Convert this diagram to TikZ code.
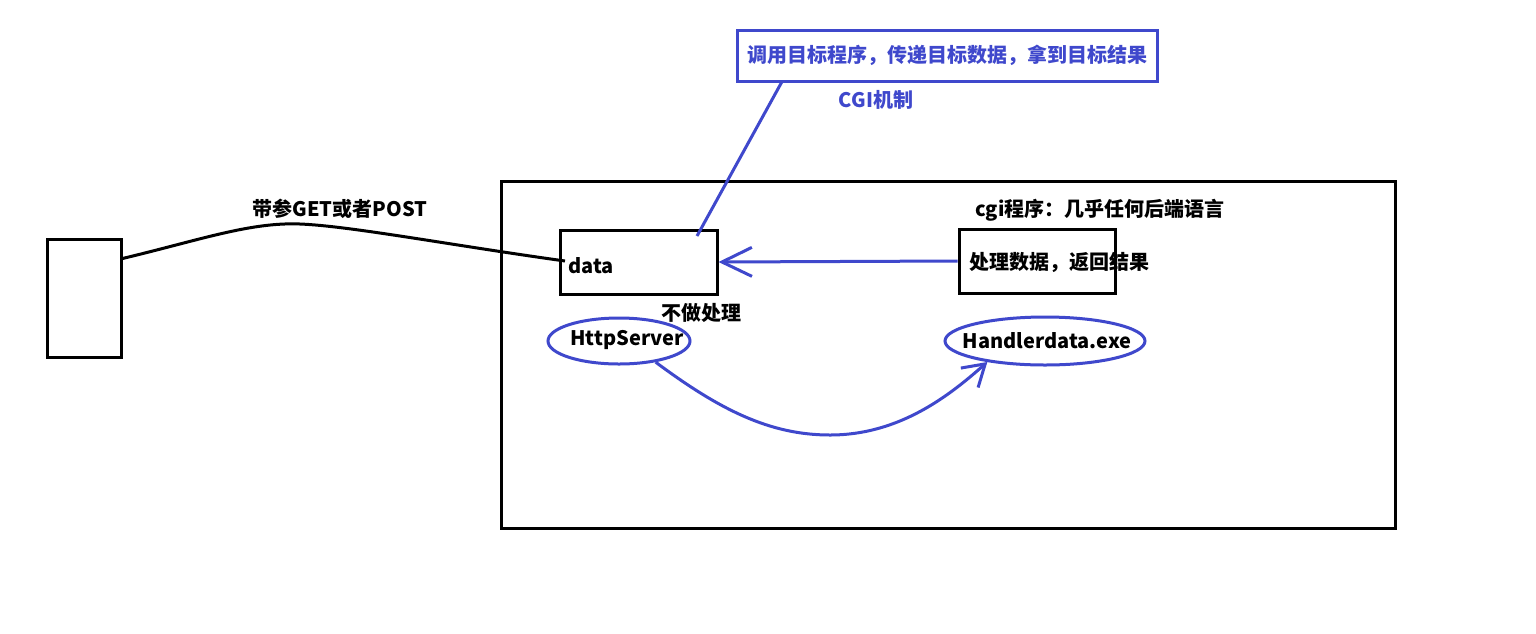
\documentclass[tikz,border=0pt]{standalone}
\usepackage{fontspec}
\setmainfont{Noto Sans CJK SC}
\usetikzlibrary{arrows.meta,shapes.geometric,calc}
\definecolor{pblue}{HTML}{3F48CC}
\begin{document}
\begin{tikzpicture}[x=1pt,y=-1pt,line width=3pt,
  box/.style={draw=black,line width=3pt,inner sep=0pt,rectangle},
  ell/.style={draw=pblue,line width=3pt,inner sep=0pt,ellipse},
  txt/.style={inner sep=0pt,font=\fontsize{20}{24}\selectfont\bfseries},
  tipA/.style={-{Straight Barb[length=30pt,width=29pt]}},
  tipB/.style={-{Straight Barb[length=21pt,width=26pt]}}]
\fill[white] (0,0) rectangle (1536,633);
\useasboundingbox (0,0) rectangle (1536,633);
% boxes
\node[box,minimum width=74,minimum height=118] (lr) at (84,298) {};
\node[box,minimum width=894,minimum height=347] (srv) at (948,354.5) {};
\node[box,minimum width=157,minimum height=64] (db) at (638.5,262) {};
\node[box,minimum width=156,minimum height=64] (rb) at (1037,261) {};
\node[box,draw=pblue,text=pblue,minimum width=420,minimum height=51,font=\fontsize{20}{24}\selectfont\bfseries] (top) at (947,55.5) {调用目标程序，传递目标数据，拿到目标结果};
% texts
\node[txt,text=pblue] (cgi) at (876,100) {CGI机制};
\node[txt] (req) at (340,209) {带参GET或者POST};
\node[txt] (lang) at (1100,210) {cgi程序：几乎任何后端语言};
\node[txt,anchor=west] (proc) at (968,262) {处理数据，返回结果};
\node[txt] (nop) at (701,313) {不做处理};
\node[txt,anchor=west] (data) at (567,266) {data};
% ellipses
\node[ell,minimum width=142,minimum height=46] (hs) at (619,341) {};
\node[txt] (hst) at (627,340) {HttpServer};
\node[ell,minimum width=200,minimum height=48] (he) at (1045,341) {};
\node[txt] (het) at (1047,341) {Handlerdata.exe};
% connectors
\coordinate (lrp) at ($(lr.north east)+(0,21)$);
\coordinate (dend) at ($(data.west)+(-2,-5)$);
\draw[black] (lrp) .. controls (200,240) and (250,222) .. (300,224)
  .. controls (350,226) and (450,245) .. (dend);
\coordinate (topp) at ($(top.south west)+(46,0)$);
\coordinate (tail) at (697,236);
\draw[pblue] (topp) -- (tail);
\draw[pblue,tipA] (rb.west) -- (db.east);
\draw[pblue,tipB] (hs.-30) .. controls (720,410) and (770,435) .. (830,435)
  .. controls (900,435) and (950,395) .. (he.200);
\end{tikzpicture}
\end{document}
